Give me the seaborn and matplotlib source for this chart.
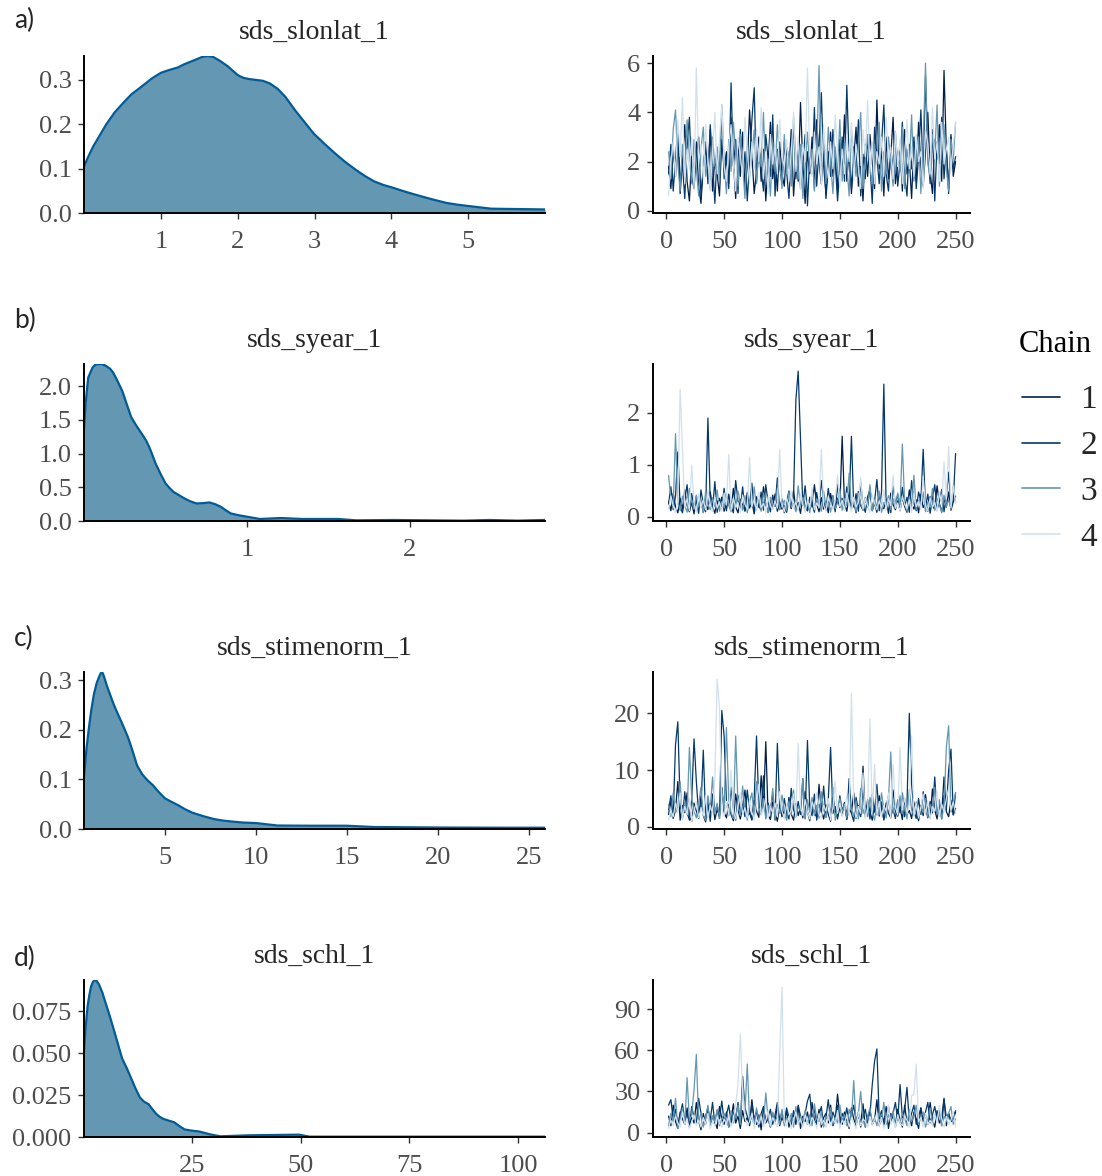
import numpy as np
import pandas as pd
import matplotlib
matplotlib.use("Agg")
import matplotlib.pyplot as plt
from matplotlib.lines import Line2D
from matplotlib.ticker import FormatStrFormatter, FixedLocator
import seaborn as sns

# ---------------- data ----------------
params = ["sds_slonlat_1", "sds_syear_1", "sds_stimenorm_1", "sds_schl_1"]
panel_tags = ["a)", "b)", "c)", "d)"]
chains = [1, 2, 3, 4]

# posterior densities (x, density)
dens_a_x = [0, 0.05, 0.12, 0.29, 0.4, 0.52, 0.62, 0.75, 0.88, 1.0, 1.1, 1.22, 1.3, 1.4, 1.54, 1.61,
            1.68, 1.77, 1.87, 2.0, 2.07, 2.15, 2.33, 2.42, 2.52, 2.62, 2.75, 2.87, 2.99, 3.13, 3.27,
            3.4, 3.54, 3.66, 3.78, 3.9, 4.0, 4.2, 4.38, 4.55, 4.71, 4.85, 4.99, 5.3, 5.6, 6.0]
dens_a_y = [0.105, 0.125, 0.15, 0.20, 0.227, 0.25, 0.268, 0.285, 0.303, 0.316, 0.322, 0.328, 0.335,
            0.342, 0.352, 0.354, 0.352, 0.343, 0.331, 0.311, 0.305, 0.302, 0.298, 0.292, 0.28, 0.262,
            0.231, 0.205, 0.179, 0.156, 0.134, 0.115, 0.097, 0.083, 0.071, 0.063, 0.058, 0.047, 0.038,
            0.030, 0.023, 0.019, 0.016, 0.0097, 0.009, 0.008]
dens_b_x = [0, 0.01, 0.026, 0.053, 0.07, 0.09, 0.11, 0.136, 0.16, 0.18, 0.205, 0.235, 0.26, 0.29,
            0.32, 0.356, 0.38, 0.4, 0.42, 0.44, 0.47, 0.5, 0.525, 0.55, 0.585, 0.62, 0.655, 0.69, 0.73,
            0.77, 0.805, 0.84, 0.87, 0.9, 0.95, 1.0, 1.08, 1.21, 1.34, 1.56, 1.67, 1.9, 2.11, 2.33,
            2.49, 2.66, 2.83]
dens_b_y = [1.37, 1.75, 2.13, 2.28, 2.32, 2.33, 2.33, 2.30, 2.26, 2.2, 2.08, 1.93, 1.75, 1.54, 1.42,
            1.29, 1.2, 1.10, 0.98, 0.85, 0.7, 0.56, 0.49, 0.43, 0.38, 0.33, 0.29, 0.26, 0.265, 0.275,
            0.25, 0.21, 0.16, 0.113, 0.085, 0.064, 0.03, 0.044, 0.03, 0.03, 0.01, 0.015, 0.01, 0.005,
            0.015, 0.005, 0.015]
dens_c_x = [0.55, 0.68, 0.82, 0.95, 1.1, 1.25, 1.41, 1.48, 1.55, 1.65, 1.8, 2.0, 2.2, 2.4, 2.6, 2.8,
            2.98, 3.2, 3.47, 3.76, 4.05, 4.35, 4.65, 5.0, 5.35, 5.73, 6.1, 6.5, 7.1, 7.7, 8.2, 8.7,
            9.3, 10, 11.2, 13.2, 15, 16.5, 20, 23.4, 25.9]
dens_c_y = [0.105, 0.16, 0.204, 0.24, 0.273, 0.295, 0.31, 0.315, 0.317, 0.308, 0.29, 0.27, 0.25,
            0.233, 0.217, 0.2, 0.184, 0.16, 0.128, 0.11, 0.098, 0.088, 0.075, 0.062, 0.055, 0.048,
            0.04, 0.033, 0.026, 0.02, 0.017, 0.015, 0.013, 0.012, 0.007, 0.0066, 0.0066, 0.004,
            0.003, 0.0026, 0.0026]
dens_d_x = [0.15, 0.5, 1.0, 1.4, 1.8, 2.2, 2.6, 3.1, 3.6, 4.4, 5.3, 6.1, 6.9, 7.9, 8.9, 10, 11, 12,
            13, 14, 15, 15.9, 16.8, 17.6, 18.4, 19.6, 20.9, 22.1, 23.3, 24.9, 26.6, 27.8, 29.1, 30.3,
            31.5, 38, 49.6, 52, 106.2]
dens_d_y = [0.051, 0.065, 0.0785, 0.085, 0.090, 0.0925, 0.0937, 0.093, 0.091, 0.086, 0.0785, 0.072,
            0.065, 0.056, 0.047, 0.041, 0.035, 0.029, 0.0236, 0.021, 0.0196, 0.0165, 0.0137, 0.012,
            0.0108, 0.0098, 0.0088, 0.0065, 0.0045, 0.0038, 0.0033, 0.0025, 0.0016, 0.001, 0.0004,
            0.001, 0.0014, 0.0002, 0.0002]

# trace draws, every 2nd iteration (2, 4, ..., 250); stored in scaled units
scale_a, scale_b, scale_c, scale_d = 10, 100, 10, 1

trace_a_1 = [18, 9, 25, 14, 31, 7, 20, 35, 12, 4, 22, 16, 28, 10, 3, 19, 26, 13, 33, 8, 21, 15, 6, 29, 17,
             24, 11, 38, 20, 5, 27, 14, 32, 9, 18, 41, 23, 7, 16, 30, 12, 25, 4, 19, 36, 13, 22, 8, 28, 15,
             10, 26, 17, 33, 6, 21, 12, 44, 19, 3, 24, 15, 30, 9, 37, 20, 11, 27, 5, 18, 32, 14, 23, 8, 29,
             16, 39, 12, 25, 7, 21, 34, 10, 18, 4, 27, 14, 31, 20, 9, 45, 17, 24, 6, 30, 13, 22, 38, 11, 19,
             26, 8, 33, 15, 21, 5, 28, 12, 36, 18, 10, 24, 40, 16, 7, 29, 21, 35, 12, 57, 25, 9, 31, 14, 20]
trace_a_2 = [15, 27, 8, 21, 34, 12, 19, 5, 26, 38, 14, 9, 23, 30, 6, 17, 28, 11, 35, 20, 3, 24, 16, 40, 13,
             22, 9, 52, 18, 29, 7, 33, 15, 24, 4, 20, 37, 50, 12, 26, 17, 8, 31, 21, 14, 39, 6, 25, 18, 11,
             28, 16, 5, 23, 35, 13, 27, 9, 19, 31, 2, 22, 15, 42, 10, 26, 48, 18, 7, 24, 14, 33, 20, 4, 17,
             30, 12, 51, 21, 9, 26, 16, 37, 6, 23, 13, 29, 19, 3, 34, 22, 11, 27, 43, 15, 8, 25, 18, 32, 10,
             20, 36, 14, 6, 27, 17, 30, 9, 22, 41, 15, 55, 24, 11, 33, 4, 28, 19, 38, 13, 26, 7, 30, 17, 22]
trace_a_3 = [24, 13, 33, 41, 19, 8, 27, 15, 37, 22, 11, 29, 17, 6, 25, 34, 14, 21, 9, 30, 18, 26, 12, 43, 20,
             7, 29, 16, 36, 23, 10, 31, 19, 5, 27, 14, 22, 33, 11, 25, 18, 40, 13, 21, 6, 28, 16, 35, 20, 9,
             31, 15, 24, 10, 38, 21, 13, 27, 5, 19, 32, 16, 25, 8, 22, 59, 18, 29, 11, 34, 20, 7, 26, 15, 37,
             12, 28, 19, 6, 33, 22, 14, 26, 40, 9, 21, 31, 17, 11, 27, 19, 36, 8, 24, 15, 30, 20, 10, 28, 23,
             16, 34, 9, 25, 18, 39, 12, 22, 30, 7, 27, 60, 19, 14, 31, 23, 43, 10, 26, 35, 17, 8, 29, 21, 36]
trace_a_4 = [6, 20, 28, 14, 37, 22, 46, 11, 25, 17, 30, 9, 58, 19, 27, 13, 35, 21, 8, 24, 40, 15, 29, 43, 18,
             12, 26, 35, 19, 8, 30, 22, 14, 38, 25, 11, 28, 17, 33, 20, 42, 13, 24, 7, 31, 19, 26, 15, 37, 22,
             18, 29, 12, 24, 40, 16, 30, 9, 27, 20, 58, 23, 14, 32, 19, 26, 11, 35, 21, 13, 28, 17, 39, 24, 10,
             25, 15, 31, 20, 36, 12, 27, 18, 9, 33, 22, 45, 16, 28, 11, 24, 19, 30, 14, 38, 21, 26, 13, 32, 18,
             29, 11, 23, 37, 17, 26, 14, 31, 20, 24, 9, 33, 27, 15, 42, 21, 28, 12, 36, 19, 25, 30, 16, 27, 36]

trace_b_1 = [30, 12, 45, 20, 8, 36, 15, 52, 22, 10, 28, 6, 40, 18, 33, 9, 25, 14, 48, 21, 7, 31, 16, 38, 11,
             26, 42, 13, 55, 19, 8, 34, 23, 12, 47, 17, 29, 6, 39, 20, 14, 58, 24, 9, 32, 18, 44, 11, 27, 15,
             22, 9, 35, 16, 51, 13, 28, 7, 41, 20, 12, 33, 19, 62, 24, 10, 37, 15, 29, 8, 45, 21, 14, 36, 18,
             155, 26, 11, 40, 17, 30, 8, 49, 22, 13, 35, 19, 56, 12, 27, 9, 43, 21, 16, 34, 7, 46, 24, 14, 31,
             12, 38, 20, 9, 52, 25, 15, 33, 8, 44, 18, 27, 11, 39, 22, 14, 60, 26, 10, 35, 19, 48, 13, 29, 40]
trace_b_2 = [25, 58, 14, 40, 125, 20, 8, 33, 62, 12, 45, 19, 30, 7, 52, 24, 10, 190, 28, 15, 68, 9, 36, 18, 55,
             12, 44, 21, 8, 70, 30, 16, 58, 11, 38, 24, 65, 9, 33, 19, 48, 13, 62, 27, 10, 42, 20, 75, 14, 35,
             8, 28, 50, 17, 40, 225, 280, 150, 22, 60, 12, 38, 26, 9, 47, 18, 70, 31, 13, 55, 24, 41, 10, 63, 20,
             36, 14, 58, 27, 155, 19, 45, 11, 66, 23, 9, 39, 52, 16, 30, 72, 12, 48, 255, 20, 34, 8, 60, 25, 43,
             15, 57, 21, 38, 9, 70, 26, 12, 48, 31, 130, 18, 44, 7, 36, 62, 14, 29, 53, 10, 40, 86, 19, 33, 122]
trace_b_3 = [80, 35, 18, 160, 28, 12, 40, 22, 9, 55, 30, 15, 42, 19, 33, 8, 48, 24, 14, 37, 20, 52, 11, 29, 17,
             44, 22, 10, 36, 18, 50, 27, 13, 41, 8, 31, 20, 58, 15, 34, 11, 46, 25, 9, 38, 17, 29, 55, 14, 23,
             32, 12, 47, 19, 26, 10, 60, 21, 38, 14, 29, 8, 43, 17, 35, 24, 11, 50, 20, 31, 9, 40, 16, 27, 54,
             13, 36, 22, 84, 18, 30, 10, 45, 25, 15, 38, 20, 62, 12, 33, 19, 50, 9, 28, 23, 41, 14, 35, 17, 46,
             21, 140, 26, 11, 39, 18, 80, 14, 32, 22, 48, 10, 29, 19, 55, 13, 36, 24, 8, 42, 20, 33, 15, 60, 27]
trace_b_4 = [15, 40, 22, 8, 30, 245, 130, 18, 35, 12, 100, 26, 9, 44, 20, 33, 14, 52, 25, 10, 38, 17, 29, 11, 46,
             23, 120, 13, 36, 19, 28, 9, 42, 24, 15, 115, 20, 34, 11, 47, 18, 26, 8, 39, 22, 14, 31, 17, 130, 25,
             10, 37, 21, 50, 16, 29, 12, 44, 23, 9, 33, 19, 56, 14, 27, 18, 130, 22, 11, 40, 25, 15, 34, 80, 20,
             32, 13, 46, 24, 10, 38, 19, 28, 75, 15, 36, 21, 9, 43, 26, 14, 31, 18, 52, 12, 35, 22, 80, 17, 27,
             11, 40, 24, 16, 33, 9, 45, 20, 30, 14, 78, 22, 12, 37, 19, 28, 10, 48, 25, 106, 34, 135, 18, 60, 26]

trace_c_1 = [22, 45, 15, 30, 80, 12, 38, 25, 60, 18, 10, 42, 28, 15, 55, 20, 9, 35, 24, 48, 13, 31, 19, 70, 26,
             16, 40, 22, 11, 58, 30, 14, 36, 65, 19, 25, 12, 47, 28, 17, 90, 33, 150, 21, 13, 44, 26, 10, 38, 18,
             29, 15, 52, 23, 12, 41, 20, 35, 16, 62, 27, 11, 46, 24, 18, 75, 30, 14, 39, 22, 10, 50, 28, 17, 34,
             20, 43, 13, 32, 25, 60, 15, 38, 22, 107, 18, 48, 27, 12, 36, 21, 55, 30, 14, 42, 24, 16, 65, 28, 19,
             35, 13, 50, 22, 29, 15, 44, 26, 11, 38, 20, 57, 25, 16, 67, 30, 14, 41, 23, 88, 27, 18, 47, 21, 33]
trace_c_2 = [30, 55, 20, 145, 185, 40, 16, 62, 25, 12, 48, 155, 80, 22, 35, 135, 18, 44, 10, 58, 27, 38, 15, 205, 160,
             45, 20, 70, 32, 12, 55, 24, 40, 18, 65, 28, 14, 50, 160, 35, 22, 90, 16, 42, 26, 60, 12, 147, 38, 20,
             50, 25, 14, 68, 30, 18, 45, 22, 85, 15, 152, 33, 20, 58, 12, 40, 26, 72, 17, 48, 140, 24, 36, 14, 55,
             28, 42, 16, 85, 24, 10, 52, 30, 18, 65, 22, 40, 14, 58, 26, 75, 19, 44, 12, 36, 55, 20, 30, 15, 48,
             25, 60, 18, 40, 200, 75, 28, 15, 50, 22, 62, 34, 16, 45, 25, 88, 20, 38, 14, 55, 30, 100, 137, 22, 60]
trace_c_3 = [40, 18, 60, 25, 35, 80, 14, 45, 22, 140, 50, 28, 16, 38, 70, 20, 12, 55, 30, 88, 24, 42, 15, 65, 32,
             175, 48, 25, 15, 160, 36, 20, 72, 28, 12, 44, 60, 18, 80, 34, 22, 50, 14, 38, 26, 68, 16, 40, 24, 56,
             30, 12, 46, 22, 65, 18, 36, 28, 85, 14, 48, 26, 52, 20, 38, 15, 62, 30, 18, 44, 24, 70, 12, 34, 50,
             26, 40, 16, 58, 30, 20, 46, 14, 68, 24, 36, 18, 52, 28, 12, 42, 22, 60, 32, 16, 48, 132, 26, 40, 20,
             55, 24, 38, 14, 66, 30, 20, 44, 16, 36, 25, 50, 18, 40, 28, 70, 22, 48, 15, 34, 140, 178, 26, 42, 60]
trace_c_4 = [12, 30, 18, 42, 25, 60, 15, 36, 22, 50, 10, 28, 44, 16, 34, 20, 55, 14, 38, 24, 88, 260, 210, 30, 18,
             45, 20, 100, 28, 14, 38, 60, 22, 34, 16, 48, 26, 12, 40, 75, 20, 30, 52, 15, 36, 24, 42, 18, 62, 28,
             14, 40, 22, 30, 58, 18, 147, 36, 20, 48, 26, 14, 44, 32, 60, 22, 16, 38, 28, 50, 12, 34, 80, 24, 42,
             18, 30, 55, 20, 235, 40, 16, 36, 24, 95, 14, 32, 190, 26, 110, 20, 45, 18, 38, 28, 60, 16, 110, 34, 22,
             140, 30, 52, 24, 38, 160, 20, 42, 16, 34, 58, 22, 46, 14, 36, 28, 62, 18, 40, 26, 50, 68, 30, 44, 24]

trace_d_1 = [12, 5, 20, 8, 3, 15, 10, 6, 18, 4, 11, 7, 22, 9, 2, 14, 6, 17, 5, 12, 8, 3, 19, 10, 6,
             15, 4, 9, 21, 7, 12, 3, 16, 8, 11, 5, 24, 9, 6, 13, 2, 18, 7, 10, 4, 14, 8, 20, 5, 11,
             7, 16, 4, 10, 13, 6, 19, 3, 12, 8, 15, 5, 22, 9, 6, 17, 4, 11, 14, 7, 20, 5, 9, 28, 12,
             6, 15, 8, 3, 18, 10, 5, 13, 7, 21, 4, 11, 16, 6, 9, 24, 5, 12, 8, 19, 3, 14, 10, 6, 17,
             9, 4, 20, 7, 12, 5, 15, 10, 3, 18, 8, 13, 6, 22, 9, 4, 16, 7, 11, 25, 5, 14, 8, 10, 15]
trace_d_2 = [20, 24, 10, 17, 6, 13, 21, 8, 15, 4, 19, 11, 7, 25, 14, 5, 12, 18, 9, 22, 6, 16, 10, 23, 8,
             13, 20, 7, 15, 10, 22, 5, 41, 18, 12, 6, 21, 9, 16, 4, 14, 19, 8, 11, 17, 6, 13, 22, 9, 15,
             7, 18, 11, 5, 16, 9, 20, 12, 6, 14, 23, 28, 10, 17, 7, 13, 19, 5, 11, 24, 8, 15, 10, 20, 6,
             14, 9, 18, 6, 12, 20, 8, 15, 4, 11, 17, 7, 13, 35, 52, 61, 10, 16, 5, 12, 19, 8, 14, 22, 9,
             35, 11, 17, 33, 8, 14, 20, 6, 12, 18, 9, 15, 22, 7, 13, 19, 10, 16, 5, 24, 11, 14, 8, 12, 16]
trace_d_3 = [5, 14, 8, 25, 3, 10, 18, 6, 40, 9, 13, 31, 57, 7, 15, 4, 11, 20, 6, 12, 8, 17, 5, 10, 14,
             9, 4, 16, 7, 12, 20, 6, 38, 14, 50, 8, 11, 5, 18, 9, 13, 6, 29, 10, 4, 15, 8, 12, 6, 17,
             5, 11, 8, 14, 4, 19, 7, 12, 9, 16, 6, 13, 5, 21, 10, 8, 15, 4, 12, 9, 18, 6, 11, 7, 20,
             8, 13, 5, 17, 10, 38, 6, 14, 30, 9, 4, 12, 18, 7, 11, 5, 15, 8, 22, 6, 13, 9, 16, 4, 11,
             7, 14, 10, 5, 17, 8, 12, 20, 6, 11, 15, 4, 9, 18, 7, 13, 10, 16, 5, 12, 8, 14, 19, 6, 10]
trace_d_4 = [3, 9, 5, 12, 7, 4, 15, 6, 10, 3, 8, 13, 5, 9, 4, 11, 6, 14, 3, 8, 5, 12, 7, 4, 10,
             6, 13, 4, 9, 21, 35, 72, 30, 11, 5, 8, 14, 3, 10, 6, 12, 4, 9, 16, 5, 11, 7, 4, 57, 106,
             8, 5, 12, 3, 9, 15, 6, 10, 4, 13, 7, 5, 11, 8, 3, 14, 6, 9, 4, 12, 5, 10, 7, 16, 3,
             9, 6, 13, 4, 11, 7, 3, 15, 5, 10, 8, 4, 12, 6, 9, 14, 5, 11, 3, 8, 20, 6, 10, 4, 13,
             7, 5, 12, 9, 4, 27, 28, 50, 8, 11, 4, 14, 6, 9, 5, 13, 7, 20, 10, 4, 12, 6, 9, 15, 4]

dens_ticks_x = [[1, 2, 3, 4, 5], [1, 2], [5, 10, 15, 20, 25], [25, 50, 75, 100]]
dens_ticks_y = [[0.0, 0.1, 0.2, 0.3], [0.0, 0.5, 1.0, 1.5, 2.0], [0.0, 0.1, 0.2, 0.3],
                [0.0, 0.025, 0.05, 0.075]]
dens_fmt = ["%.1f", "%.1f", "%.1f", "%.3f"]
trace_ticks_y = [[0, 2, 4, 6], [0, 1, 2], [0, 10, 20], [0, 30, 60, 90]]
iter_ticks = [0, 50, 100, 150, 200, 250]

# ---------------- styling ----------------
sns.set_style("ticks")
plt.rcParams["font.family"] = ["Liberation Serif", "DejaVu Serif"]
fill_col = "#6497b1"
edge_col = "#005b96"
chain_cols = {1: "#011f4b", 2: "#03396c", 3: "#6497b1", 4: "#d1e1ec"}
tick_col = "#4d4d4d"

W, H = 1102, 1176
fig = plt.figure(figsize=(W / 100, H / 100), dpi=100)


def add_ax(left, right, top, bottom):
    return fig.add_axes([left / W, 1 - bottom / H, (right - left) / W, (bottom - top) / H])


def style_ax(ax):
    sns.despine(ax=ax)
    for s in ["left", "bottom"]:
        ax.spines[s].set_linewidth(1.4)
        ax.spines[s].set_color("black")
    ax.tick_params(length=4, width=1, color="#333333", labelcolor=tick_col, labelsize=19)
    ax.tick_params(axis="x", pad=9)
    ax.tick_params(axis="y", pad=5)
    ax.set_xlabel("")
    ax.set_ylabel("")


dens = [(dens_a_x, dens_a_y), (dens_b_x, dens_b_y), (dens_c_x, dens_c_y), (dens_d_x, dens_d_y)]
traces = [
    ([trace_a_1, trace_a_2, trace_a_3, trace_a_4], scale_a),
    ([trace_b_1, trace_b_2, trace_b_3, trace_b_4], scale_b),
    ([trace_c_1, trace_c_2, trace_c_3, trace_c_4], scale_c),
    ([trace_d_1, trace_d_2, trace_d_3, trace_d_4], scale_d),
]
iters = np.arange(2, 251, 2)

bottoms = [213, 521, 829, 1137]
tag_y = [20, 320, 638, 958]
panel_h = 157

for i, p in enumerate(params):
    bot = bottoms[i]
    top = bot - panel_h

    # density panel
    ax = add_ax(84, 545, top, bot)
    dx, dy = dens[i]
    ax.fill_between(dx, 0, dy, color=fill_col, linewidth=0, zorder=1)
    sns.lineplot(x=dx, y=dy, ax=ax, color=edge_col, linewidth=1.6, sort=False, zorder=2)
    ax.set_xlim(dx[0], dx[-1])
    ax.set_ylim(0, max(dy))
    ax.xaxis.set_major_locator(FixedLocator(dens_ticks_x[i]))
    ax.yaxis.set_major_locator(FixedLocator(dens_ticks_y[i]))
    ax.yaxis.set_major_formatter(FormatStrFormatter(dens_fmt[i]))
    style_ax(ax)
    ax.set_title(p, fontsize=20, pad=12)

    # trace panel
    ax2 = add_ax(653, 970, top, bot)
    series, sc = traces[i]
    frames = []
    for c, vals in zip(chains, series):
        frames.append(pd.DataFrame({"Iteration": iters, "value": np.array(vals, float) / sc, "Chain": c}))
    df = pd.concat(frames, ignore_index=True)
    sns.lineplot(data=df, x="Iteration", y="value", hue="Chain", palette=chain_cols,
                 hue_order=chains, estimator=None, sort=False, linewidth=0.9, ax=ax2, legend=False)
    lo, hi = df["value"].min(), df["value"].max()
    rng = hi - lo
    ax2.set_ylim(lo - 0.05 * rng, hi + 0.05 * rng)
    ax2.set_xlim(1 - 0.05 * 249, 250 + 0.05 * 249)
    ax2.xaxis.set_major_locator(FixedLocator(iter_ticks))
    ax2.yaxis.set_major_locator(FixedLocator(trace_ticks_y[i]))
    style_ax(ax2)
    ax2.set_title(p, fontsize=20, pad=12)

    fig.text(14 / W, 1 - tag_y[i] / H, panel_tags[i], fontsize=19, family=["Lato", "DejaVu Sans"],
             ha="left", va="center")

# legend: title as its own text, entries via fig.legend
fig.text(1019 / W, 1 - 345 / H, "Chain", fontsize=22, ha="left", va="center", color="black")
handles = [Line2D([0], [0], color=chain_cols[c], linewidth=1.2) for c in chains]
leg = fig.legend(handles, [str(c) for c in chains], loc="upper left",
                 bbox_to_anchor=(1022 / W, 1 - 385 / H), frameon=False, fontsize=24,
                 handlelength=1.15, labelspacing=0.46, handletextpad=0.6,
                 borderpad=0, borderaxespad=0)

fig.savefig("out.png", dpi=100)
